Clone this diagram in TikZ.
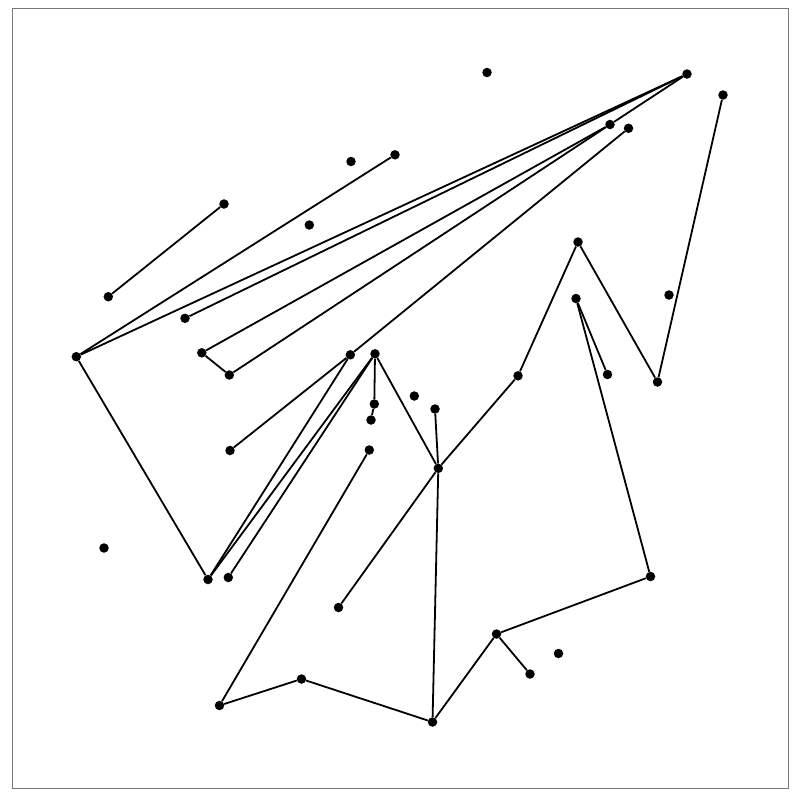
\documentclass[tikz,border=0pt]{standalone}
\begin{document}
\begin{tikzpicture}[x=1pt,y=-1pt,
  dot/.style={circle,fill=black,inner sep=0pt,minimum size=9.5pt},
  edge/.style={line width=1.8pt,black}]
\useasboundingbox (0,0) rectangle (800,796);
\fill[white] (0,0) rectangle (800,796);
\draw[gray!95!black,line width=1pt] (12.3,8.3) rectangle (788.3,788.3);
\foreach \n/\x/\y in {
 a/487/72.5, b/687/74, c/723/95, d/610/124.5, e/628.5/128.3, f/395/154.8, g/351/161.5,
 h/224/204, i/309.3/225, j/108.3/296.7, k/185/318.3, l/76.3/356.7, m/201.8/352.8, n/229.3/375,
 o/578/242, p/576/298.5, q/669/295, r/607.5/374.5, s/657.5/382, t/518/375.8,
 u/350.3/354.8, v/375/353.8, w/374.3/404, x/371/420, y/414.3/396, z/435/409,
 A/438.3/468.3, B/230/450.5, C/369.3/450, D/104/548, E/208/579.5, F/228.3/577.5,
 G/650.5/576.5, H/338.5/607.5, I/496.5/634, J/558.5/653.5, K/530/674, L/219.5/705.5,
 M/301.5/679, N/432.5/722}
 \node[dot] (\n) at (\x,\y) {};
\foreach \p/\q in {j/h, l/f, l/b, k/b, d/b, d/m, d/n, m/n, e/u, u/B, u/E, v/E, v/F, v/w, w/x, v/A,
 z/A, A/t, A/H, t/o, o/s, s/c, p/r, p/G, G/I, I/K, I/N, N/A, N/M, M/L, L/C, l/E}
 \draw[edge] (\p) -- (\q);
\end{tikzpicture}
\end{document}
